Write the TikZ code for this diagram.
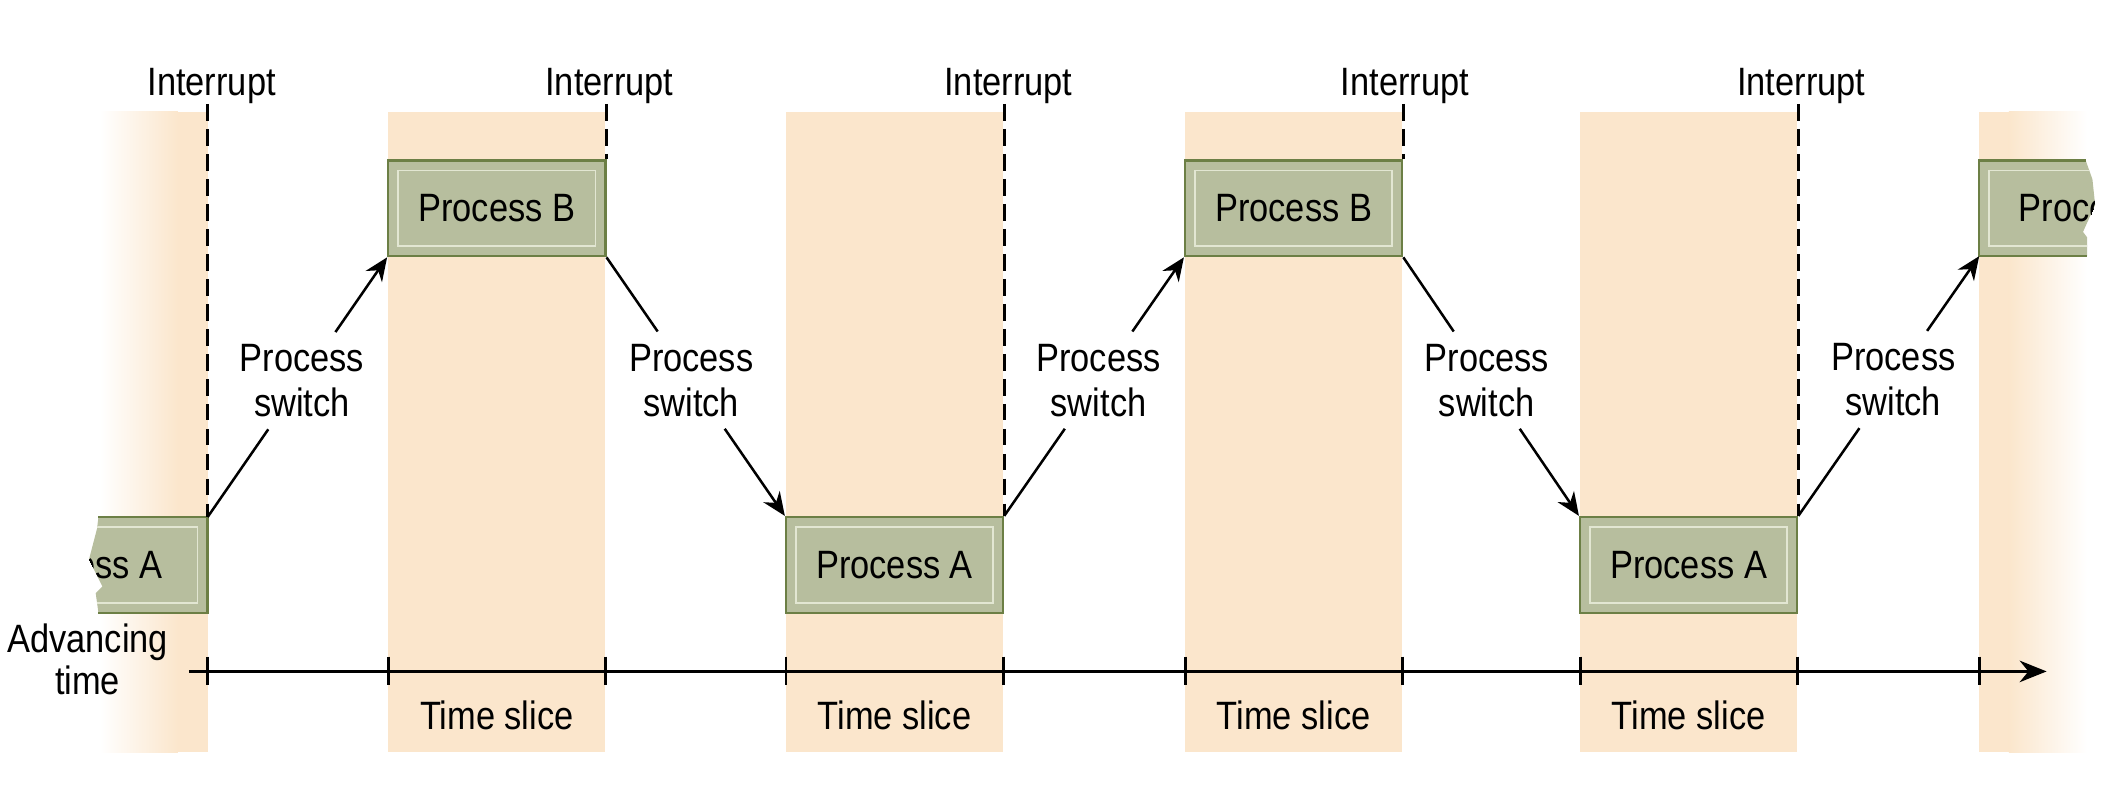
\documentclass[tikz,border=0pt]{standalone}
\usepackage{fontspec}
\setmainfont{Liberation Sans}[FakeStretch=0.87]
\usetikzlibrary{arrows.meta,calc}

\definecolor{band}{RGB}{251,230,204}
\definecolor{boxfill}{RGB}{183,190,158}
\definecolor{boxline}{RGB}{108,127,69}
\definecolor{boxinner}{RGB}{226,230,210}

\tikzset{every picture/.style={line width=0.75pt}}
\tikzset{
	lbl/.style={inner sep=0pt, font=\fontsize{22}{25}\selectfont},
	procbox/.style={lbl, fill=boxfill, draw=boxline, line width=1.3pt, minimum width=120.75pt, minimum height=53.25pt,
		path picture={\draw[boxinner, line width=0.9pt] ([shift={(5.5pt,-5.5pt)}]path picture bounding box.north west) rectangle ([shift={(-5.5pt,5.5pt)}]path picture bounding box.south east);}},
	switchlbl/.style={lbl, align=center, inner xsep=2pt, inner ysep=6.5pt},
	swline/.style={line width=1.4pt},
	swarrow/.style={swline, -{Stealth[length=13pt,width=11pt]}},
	intline/.style={line width=1.5pt, dash pattern=on 9.3pt off 4.6pt},
	axisline/.style={line width=1.3pt, -{Stealth[length=15pt,width=12pt]}},
	tickline/.style={line width=1.6pt},
}

\begin{document}
\begin{tikzpicture}[x=0.75pt,y=0.75pt,yscale=-1,xscale=1]
	\useasboundingbox (0,0) rectangle (1568,582);
	
	%Time slice bands
	\foreach \x in {288,583,879,1172} \fill[band] (\x,83) rectangle ++(161,475);
	%Left and right fading bands
	\shade[left color=white, right color=band] (74,83) rectangle (132,558);
	\fill[band] (132,83) rectangle (154,558);
	\fill[band] (1468,83) rectangle (1490,558);
	\shade[left color=band, right color=white] (1490,83) rectangle (1548,558);
	
	%Torn box, left
	\fill[boxfill] (73,383.5) -- (72,392) -- (66,415) -- (76,435) -- (71,440) -- (73,454.5) -- (154,454.5) -- (154,383.5) -- cycle;
	\begin{scope}
		\clip (73,383.5) -- (72,392) -- (66,415) -- (76,435) -- (71,440) -- (73,454.5) -- (154,454.5) -- (154,383.5) -- cycle;
		\draw[boxinner, line width=0.9pt] (20,390.9) rectangle (146.6,447.1);
		\node[lbl, anchor=east] (tornA) at (121,419) {Process A};
	\end{scope}
	\draw[boxline, line width=1.3pt] (73,383.5) -- (154,383.5) -- (154,454.5) -- (73,454.5);
	\coordinate (tornAne) at (154,383.5);
	
	%Torn box, right
	\fill[boxfill] (1468,119) -- (1547,119) -- (1552,133) -- (1554,152) -- (1545,172) -- (1548,176) -- (1548,190) -- (1468,190) -- cycle;
	\begin{scope}
		\clip (1468,119) -- (1547,119) -- (1552,133) -- (1554,152) -- (1545,172) -- (1548,176) -- (1548,190) -- (1468,190) -- cycle;
		\draw[boxinner, line width=0.9pt] (1475.4,126.4) rectangle (1600,182.6);
		\node[lbl, anchor=west] (tornB) at (1497,154.5) {Process B};
	\end{scope}
	\draw[boxline, line width=1.3pt] (1547,119) -- (1468,119) -- (1468,190) -- (1548,190);
	\coordinate (tornBsw) at (1468,190);
	
	%Process boxes
	\node[procbox] (pb1) at (368.5,154.5) {Process B};
	\node[procbox] (pa1) at (663.5,419) {Process A};
	\node[procbox] (pb2) at (959.5,154.5) {Process B};
	\node[procbox] (pa2) at (1252.5,419) {Process A};
	
	%Interrupts
	\node[lbl, anchor=base] (int1) at (157,70.5) {Interrupt};
	\node[lbl, anchor=base] (int2) at (452,70.5) {Interrupt};
	\node[lbl, anchor=base] (int3) at (748,70.5) {Interrupt};
	\node[lbl, anchor=base] (int4) at (1042,70.5) {Interrupt};
	\node[lbl, anchor=base] (int5) at (1336,70.5) {Interrupt};
	\draw[intline] (int1.south -| tornAne) -- (tornAne);
	\draw[intline] (int2.south -| pb1.north east) -- (pb1.north east);
	\draw[intline] (int3.south -| pa1.north east) -- (pa1.north east);
	\draw[intline] (int4.south -| pb2.north east) -- (pb2.north east);
	\draw[intline] (int5.south -| pa2.north east) -- (pa2.north east);
	
	%Process switches
	\node[switchlbl] (sw1) at ($(pb1.south west)!0.475!(tornAne)$) {Process\\switch};
	\node[switchlbl] (sw2) at ($(pb1.south east)!0.475!(pa1.north west)$) {Process\\switch};
	\node[switchlbl] (sw3) at ($(pb2.south west)!0.475!(pa1.north east)$) {Process\\switch};
	\node[switchlbl] (sw4) at ($(pb2.south east)!0.475!(pa2.north west)$) {Process\\switch};
	\node[switchlbl] (sw5) at ($(tornBsw)!0.475!(pa2.north east)$) {Process\\switch};
	\draw[swline] (tornAne) -- (sw1);
	\draw[swarrow] (sw1) -- (pb1.south west);
	\draw[swline] (pb1.south east) -- (sw2);
	\draw[swarrow] (sw2) -- (pa1.north west);
	\draw[swline] (pa1.north east) -- (sw3);
	\draw[swarrow] (sw3) -- (pb2.south west);
	\draw[swline] (pb2.south east) -- (sw4);
	\draw[swarrow] (sw4) -- (pa2.north west);
	\draw[swline] (pa2.north east) -- (sw5);
	\draw[swarrow] (sw5) -- (tornBsw);
	
	%Time axis
	\coordinate (tstart) at (140,498);
	\coordinate (tend) at (1518,498);
	\draw[axisline] (tstart) -- (tend);
	\foreach \x in {154,288,449,583,744,879,1040,1172,1333,1468} \draw[tickline] (\x,487) -- (\x,508);
	
	% Text Node
	\node[lbl, align=center, font=\fontsize{22}{23.3}\selectfont] (adv) at (65,489) {Advancing\\time};
	% Text Node
	\node[lbl, anchor=base] (ts1) at (368.5,541) {Time slice};
	\node[lbl, anchor=base] (ts2) at (663.5,541) {Time slice};
	\node[lbl, anchor=base] (ts3) at (959.5,541) {Time slice};
	\node[lbl, anchor=base] (ts4) at (1252.5,541) {Time slice};
	
\end{tikzpicture}
\end{document}
